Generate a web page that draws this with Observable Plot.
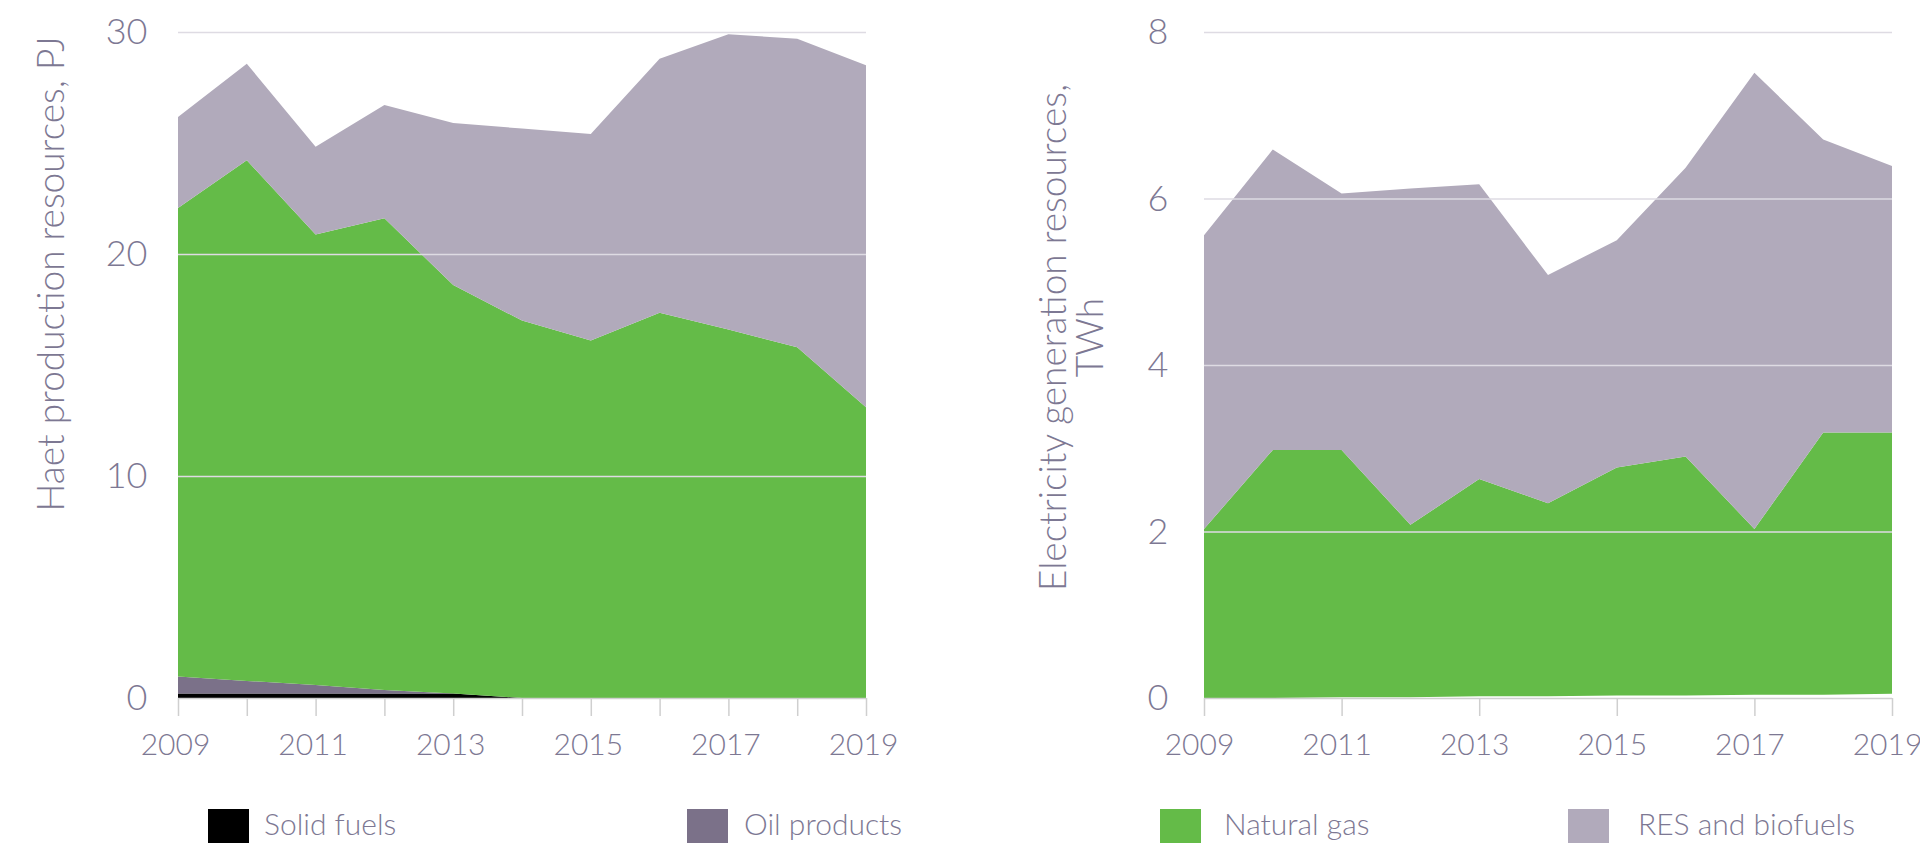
<!DOCTYPE html>
<html>
<head>
<meta charset="utf-8">
<script src="https://cdn.jsdelivr.net/npm/d3@7"></script>
<script src="https://cdn.jsdelivr.net/npm/@observablehq/plot@0.6"></script>
<style>
  html, body { margin: 0; padding: 0; background: #fff; overflow: hidden; }
  #wrap { position: relative; width: 1920px; height: 843px; font-family: Lato, "Open Sans", sans-serif; font-weight: 300; color: #7d7893; }
  .chart { position: absolute; top: 0; }
  .chart svg { overflow: visible; }
  .sw { position: absolute; top: 809px; width: 41px; height: 45px; }
  .lt { position: absolute; top: 806px; font-size: 30px; line-height: 34px; white-space: nowrap; }
</style>
</head>
<body>
<div id="wrap">
  <div id="left" class="chart" style="left:0px"></div>
  <div id="right" class="chart" style="left:960px"></div>
</div>
<script>
const years = [2009, 2010, 2011, 2012, 2013, 2014, 2015, 2016, 2017, 2018, 2019];
const labelYears = [2009, 2011, 2013, 2015, 2017, 2019];

// Heat production resources, PJ
const heatSolid = [0.2, 0.2, 0.2, 0.2, 0.2, 0, 0, 0, 0, 0, 0];
const heatOil   = [0.77, 0.57, 0.38, 0.16, 0.0, 0, 0, 0, 0, 0, 0];
const heatGas   = [21.1, 23.45, 20.3, 21.25, 18.4, 17.0, 16.1, 17.35, 16.6, 15.8, 13.1];
const heatRes   = [4.1, 4.35, 3.95, 5.1, 7.3, 8.65, 9.3, 11.45, 13.3, 13.9, 15.4];

// Electricity generation resources, TWh
const elecOther = [0.00, 0.00, 0.01, 0.01, 0.02, 0.02, 0.03, 0.03, 0.04, 0.04, 0.05];
const elecGas   = [2.03, 2.98, 2.97, 2.07, 2.61, 2.32, 2.74, 2.87, 1.99, 3.15, 3.14];
const elecRes   = [3.53, 3.61, 3.08, 4.04, 3.54, 2.74, 2.73, 3.47, 5.48, 3.52, 3.20];

const seriesNames = ["Other", "Solid fuels", "Oil products", "Natural gas", "RES and biofuels"];
const seriesColors = ["#ffffff", "#000000", "#7b7189", "#64bb48", "#b1aabb"];
const legendNames = ["Solid fuels", "Oil products", "Natural gas", "RES and biofuels"];

const textColor = "#7d7893";
const gridColor = "#dedbe3";
const tickColor = "#cfcfcf";

function rows(list) {
  const out = [];
  for (const [name, vals] of list) years.forEach((y, i) => out.push({year: y, series: name, value: vals[i]}));
  return out;
}

const heatData = rows([["Solid fuels", heatSolid], ["Oil products", heatOil], ["Natural gas", heatGas], ["RES and biofuels", heatRes]]);
const elecData = rows([["Other", elecOther], ["Natural gas", elecGas], ["RES and biofuels", elecRes]]);

function makeChart({data, yDomain, yTicks, marginLeft, marginRight, yPad, tickYears, xdx, label, labelOpts}) {
  return Plot.plot({
    width: 960,
    height: 780,
    marginTop: 32,
    marginBottom: 82,
    marginLeft,
    marginRight,
    style: {fontFamily: "Lato, 'Open Sans', sans-serif", fontWeight: 300, color: textColor, background: "transparent", overflow: "visible"},
    x: {domain: [2009, 2019], axis: null},
    y: {domain: yDomain, axis: null},
    color: {domain: seriesNames, range: seriesColors},
    marks: [
      Plot.areaY(data, Plot.stackY({x: "year", y: "value", fill: "series", order: seriesNames})),
      Plot.gridY(yTicks.filter(d => d > 0), {stroke: gridColor, strokeOpacity: 1, strokeWidth: 1.5}),
      Plot.ruleY([0], {stroke: tickColor, strokeWidth: 1.5}),
      Plot.axisX({ticks: tickYears, tickSize: 18, stroke: tickColor, strokeWidth: 1.5, tickFormat: () => "", label: null}),
      Plot.axisX({ticks: labelYears, tickSize: 0, tickPadding: 35, fill: textColor, fontSize: 30, tickFormat: d => String(d), dx: xdx, label: null}),
      Plot.axisY({ticks: yTicks, tickSize: 0, tickPadding: yPad, fill: textColor, fontSize: 36, tickFormat: d => String(d), label: null}),
      Plot.text([label], {fill: textColor, fontSize: 37, rotate: -90, ...labelOpts})
    ]
  });
}

document.getElementById("left").appendChild(makeChart({
  data: heatData, yDomain: [0, 30], yTicks: [0, 10, 20, 30],
  marginLeft: 178, marginRight: 94, yPad: 31, tickYears: years, xdx: -3,
  label: "Haet production resources, PJ",
  labelOpts: {frameAnchor: "top-left", textAnchor: "end", lineAnchor: "middle", dx: -126, dy: 4}
}));

document.getElementById("right").appendChild(makeChart({
  data: elecData, yDomain: [0, 8], yTicks: [0, 2, 4, 6, 8],
  marginLeft: 244, marginRight: 28, yPad: 36, tickYears: labelYears, xdx: -5,
  label: "Electricity generation resources,\nTWh",
  labelOpts: {frameAnchor: "left", textAnchor: "middle", lineAnchor: "middle", lineHeight: 1.0, dx: -132, dy: -28}
}));

// legend
const wrap = document.getElementById("wrap");
const swX = [208, 687, 1160, 1568];
const txX = [264, 744, 1224, 1638];
legendNames.forEach((name, i) => {
  const sw = document.createElement("div");
  sw.className = "sw";
  sw.style.left = swX[i] + "px";
  sw.style.background = seriesColors[seriesNames.indexOf(name)];
  wrap.appendChild(sw);
  const t = document.createElement("div");
  t.className = "lt";
  t.style.left = txX[i] + "px";
  t.textContent = name;
  wrap.appendChild(t);
});
</script>
</body>
</html>
